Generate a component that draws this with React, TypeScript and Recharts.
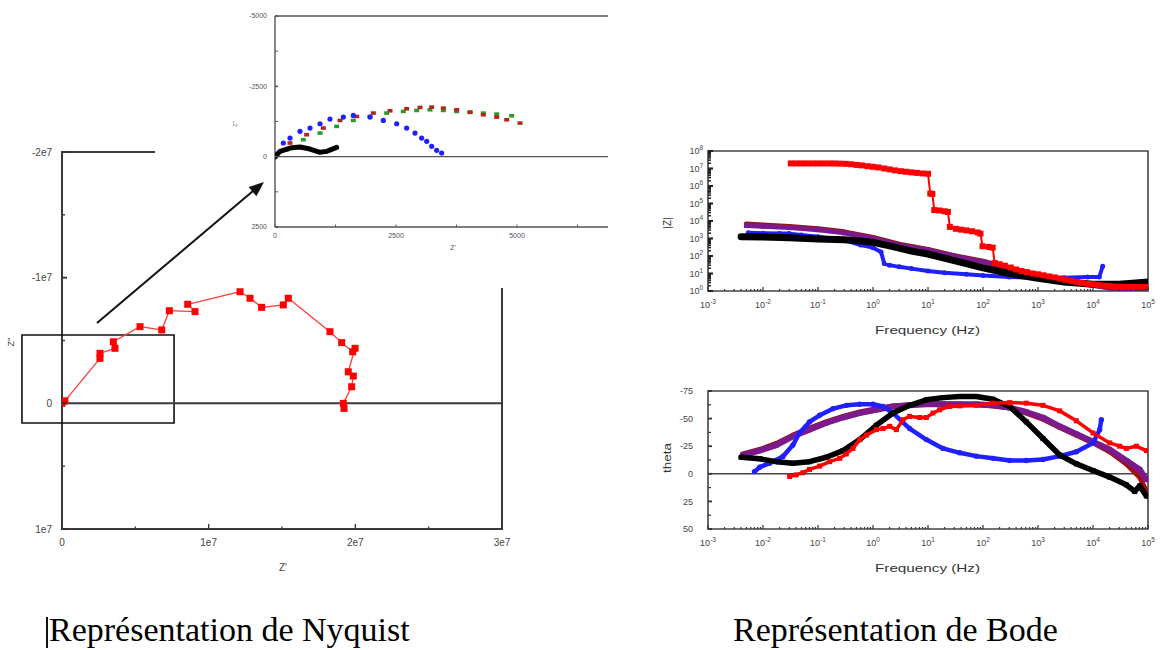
import React from 'react';
import { ComposedChart, Scatter, XAxis, YAxis, ReferenceArea, ReferenceLine } from 'recharts';

const SANS = '"Liberation Sans", Arial, Helvetica, sans-serif';
const SERIF = '"Liberation Serif", "Times New Roman", serif';

type Pt = [number, number];
const toXY = (a: Pt[]) => a.map(([x, y]) => ({ x, y }));

// ---------------- Nyquist (main) ----------------
const nyqXTicks = [0, 5e6, 1e7, 1.5e7, 2e7, 2.5e7, 3e7];
const nyqXLabels = ['0', '', '1e7', '', '2e7', '', '3e7'];
const nyqYTicks = [-2e7, -1.5e7, -1e7, -5e6, 0, 5e6, 1e7];
const nyqYLabels = ['-2e7', '', '-1e7', '', '0', '', '1e7'];
const nyqRed: Pt[] = [
  [0, 0], [2e5, -2e5], [2.59e6, -3.58e6], [2.59e6, -3.98e6], [3.61e6, -4.38e6], [3.5e6, -4.9e6],
  [5.32e6, -6.1e6], [6.8e6, -5.84e6], [7.32e6, -7.37e6], [9.07e6, -7.3e6], [8.57e6, -7.88e6],
  [1.214e7, -8.88e6], [1.282e7, -8.36e6], [1.361e7, -7.64e6], [1.509e7, -7.83e6], [1.543e7, -8.36e6],
  [1.827e7, -5.7e6], [1.907e7, -4.83e6], [1.982e7, -4.1e6], [1.998e7, -4.38e6], [1.952e7, -2.51e6],
  [1.986e7, -2.17e6], [1.975e7, -1.32e6], [1.918e7, 0], [1.923e7, 4e5],
];
const zoomBox = { x1: -2.73e6, x2: 7.64e6, y1: -5.44e6, y2: 1.57e6 };

// ---------------- Nyquist (inset) ----------------
const insXTicks = [0, 1250, 2500, 3750, 5000, 6250];
const insXLabels = ['0', '', '2500', '', '5000', ''];
const insYTicks = [-5000, -3750, -2500, -1250, 0, 1250, 2500];
const insYLabels = ['-5000', '', '-2500', '', '0', '', '2500'];
const insBlue: Pt[] = [
  [0, 0], [172, -485], [310, -662], [516, -899], [723, -1017], [930, -1170], [1136, -1336],
  [1412, -1407], [1618, -1466], [1963, -1407], [2238, -1288], [2514, -1170], [2720, -1017],
  [2892, -839], [3030, -662], [3134, -544], [3237, -367], [3340, -225], [3443, -130],
];
const insRed: Pt[] = [
  [0, 0], [310, -485], [654, -780], [999, -1017], [1343, -1288], [1687, -1430], [2032, -1549],
  [2376, -1631], [2720, -1702], [2996, -1749], [3237, -1761], [3478, -1726], [3753, -1667],
  [4029, -1584], [4304, -1489], [4580, -1407], [4787, -1312], [5062, -1194],
];
const insGreen: Pt[] = [
  [0, 0], [241, -248], [585, -603], [930, -839], [1274, -1076], [1618, -1288], [1963, -1430],
  [2307, -1549], [2651, -1608], [2927, -1643], [3202, -1667], [3478, -1643], [3753, -1608],
  [4029, -1572], [4304, -1549], [4580, -1513], [4890, -1454],
];
const insBlack: Pt[] = [
  [0, 0], [103, -189], [310, -307], [516, -343], [723, -272], [930, -154], [1067, -189], [1274, -331],
];

// ---------------- Bode ----------------
const freqMajors = [1e-3, 1e-2, 1e-1, 1, 1e1, 1e2, 1e3, 1e4, 1e5];
const freqLabels = ['-3', '-2', '-1', '0', '1', '2', '3', '4', '5'];
const zMajors = [1, 1e1, 1e2, 1e3, 1e4, 1e5, 1e6, 1e7, 1e8];
const zLabels = ['0', '1', '2', '3', '4', '5', '6', '7', '8'];
const thetaMajors = [-75, -50, -25, 0, 25, 50];
const thetaLabels = ['-75', '-50', '-25', '0', '25', '50'];

const logMinor = (majors: number[]) => {
  const out: number[] = [];
  majors.forEach((d, i) => {
    out.push(d);
    if (i < majors.length - 1) for (let m = 2; m <= 9; m++) out.push(m * d);
  });
  return out;
};
const freqAxisTicks = logMinor(freqMajors);
const zAxisTicks = logMinor(zMajors);
const thetaAxisTicks = thetaMajors.flatMap((t, i) => (i < thetaMajors.length - 1 ? [t, t + 12.5] : [t]));

const redZ: Pt[] = [
  [0.032, 1.95e7], [0.04, 1.95e7], [0.05, 1.95e7], [0.063, 1.95e7], [0.08, 1.95e7], [0.1, 1.95e7],
  [0.126, 1.95e7], [0.16, 1.95e7], [0.2, 1.95e7], [0.25, 1.9e7], [0.32, 1.85e7], [0.4, 1.75e7],
  [0.5, 1.6e7], [0.63, 1.5e7], [0.8, 1.35e7], [1.0, 1.25e7], [1.26, 1.15e7], [1.6, 1.0e7],
  [2.0, 8.9e6], [2.5, 7.8e6], [3.2, 7.0e6], [4.0, 6.5e6], [5.0, 6.0e6], [6.3, 5.6e6], [8.0, 5.2e6],
  [10, 5.0e6], [11, 3.7e5], [12, 3.5e5], [13, 4.2e4], [16, 4.0e4], [20, 3.6e4], [23, 3.3e4],
  [25, 4.6e3], [32, 3.6e3], [40, 3.2e3], [50, 2.9e3], [63, 2.6e3], [80, 2.2e3], [90, 1.9e3],
  [98, 360], [126, 330], [150, 300], [163, 40], [200, 34], [250, 28], [320, 22], [400, 17],
  [500, 14], [630, 12], [800, 10], [1000, 9], [1260, 7.9], [1600, 6.8], [2000, 6], [2500, 5.1],
  [3200, 4.4], [4000, 3.8], [5000, 3.3], [6300, 2.9], [8000, 2.6], [10000, 2.4], [12600, 2.2],
  [16000, 2.0], [20000, 1.9], [25000, 1.8], [32000, 1.75], [40000, 1.7], [50000, 1.7],
  [63000, 1.7], [80000, 1.7], [95000, 1.7],
];
const blueZ: Pt[] = [
  [0.0054, 2.1e3], [0.01, 2.0e3], [0.02, 1.95e3], [0.03, 1.9e3], [0.05, 1.6e3], [0.1, 1.25e3],
  [0.2, 950], [0.3, 800], [0.6, 420], [1.0, 300], [1.4, 170], [1.6, 37], [2.0, 30], [3.0, 24],
  [5.0, 19], [10, 14], [20, 11], [50, 9], [100, 7.6], [300, 6.3], [1000, 5.8], [3000, 5.8],
  [8000, 6.3], [13000, 6.3], [15000, 26],
];
const blackZ: Pt[] = [
  [0.004, 1.25e3], [0.01, 1.2e3], [0.03, 1.1e3], [0.1, 950], [0.3, 850], [0.6, 720], [1, 600],
  [2, 380], [3, 280], [5, 190], [10, 130], [30, 55], [100, 21], [300, 10], [1000, 5.3],
  [3000, 3.3], [10000, 2.4], [30000, 2.4], [60000, 2.9], [100000, 3.3],
];
const purpleZ: Pt[] = [
  [0.005, 5.5e3], [0.01, 5.0e3], [0.03, 4.2e3], [0.1, 3.2e3], [0.3, 2.1e3], [1, 1.0e3], [3, 410],
  [10, 213], [30, 96], [100, 46], [300, 19], [1000, 7.9], [3000, 4.1], [10000, 2.1], [30000, 1.2],
  [100000, 1.0],
];
const darkRedZ: Pt[] = [
  [0.005, 6.8e3], [0.01, 6.0e3], [0.03, 4.8e3], [0.1, 3.6e3], [0.3, 2.4e3], [1, 1.15e3], [3, 470],
  [10, 240], [30, 105], [100, 50], [300, 20], [1000, 8], [3000, 4], [10000, 2.1], [30000, 1.3],
  [100000, 1.1],
];

const blueTheta: Pt[] = [
  [0.007, -2], [0.0087, -6], [0.0132, -9.6], [0.023, -15.7], [0.035, -26], [0.046, -37], [0.07, -47],
  [0.107, -53], [0.187, -59], [0.33, -62], [0.57, -63], [1.0, -63], [1.52, -61], [2.31, -55],
  [4.64, -41], [9.33, -31], [18.7, -23], [37.6, -19], [75.6, -16], [152, -14], [305, -12], [613, -12],
  [1233, -13], [2477, -16], [4977, -20], [10000, -28], [13220, -40], [14180, -49],
];
const blackTheta: Pt[] = [
  [0.004, -15], [0.0087, -13.6], [0.0175, -11], [0.035, -9.6], [0.07, -11], [0.142, -15], [0.285, -21],
  [0.573, -31], [1.15, -44], [2.31, -55], [4.64, -62], [9.33, -67], [18.7, -69], [37.6, -70],
  [75.6, -70], [152, -67.5], [305, -61], [613, -47], [1233, -32], [2477, -17], [4977, -9],
  [10000, -3], [20100, 3], [40360, 10], [57300, 16], [70500, 11], [93300, 20],
];
const redTheta: Pt[] = [
  [0.0305, 2.4], [0.04, 1], [0.053, -1], [0.07, -4], [0.107, -7], [0.163, -11], [0.248, -14],
  [0.327, -18], [0.433, -23], [0.573, -31], [0.757, -35], [1.15, -40], [1.52, -41], [2.01, -43],
  [2.66, -40], [3.51, -49], [4.64, -52], [7.05, -51], [9.33, -51], [12.3, -55], [16.3, -58],
  [24.8, -61], [37.6, -61.5], [75.6, -62], [152, -64], [305, -64.5], [613, -64], [1233, -62],
  [2477, -57], [4977, -48], [10000, -37], [20100, -28], [30500, -25], [40360, -23], [61400, -25],
  [93300, -21],
];
const purpleTheta: Pt[] = [
  [0.0043, -17], [0.0087, -21], [0.0175, -26], [0.035, -34], [0.07, -40], [0.14, -46], [0.285, -51],
  [0.57, -55], [1.15, -58], [2.31, -61], [4.64, -62], [9.33, -63], [18.7, -63], [37.6, -63],
  [75.6, -63], [152, -62], [305, -60], [613, -56], [1233, -51], [2477, -43], [4977, -36],
  [10000, -29], [20100, -22], [40360, -12], [70500, -4], [93300, 5],
];
const darkRedTheta: Pt[] = [
  [0.0043, -18], [0.0087, -22], [0.0175, -27.5], [0.035, -35], [0.07, -41.5], [0.14, -47],
  [0.285, -52], [0.57, -56], [1.15, -59], [2.31, -61.5], [4.64, -62.5], [9.33, -63.5], [18.7, -63.5],
  [37.6, -63], [75.6, -62.5], [152, -61.5], [305, -59.5], [613, -55], [1233, -49.5], [2477, -42],
  [4977, -35], [10000, -28], [20100, -20], [40360, -9], [70500, 3], [93300, 16],
];

// ---------------- helpers ----------------
type TickCfg = {
  side: 'bottom' | 'left';
  majors: number[];
  labels: string[];
  majorLen: number;
  minorLen: number;
  font: number;
  gap: number;
  stroke: string;
  sw: number;
  color: string;
  sup?: boolean;
};

const makeTick = (c: TickCfg) => (p: any) => {
  const { x, y, payload } = p;
  const i = c.majors.indexOf(payload.value);
  const label = i >= 0 ? c.labels[i] : '';
  const major = i >= 0 && (label !== '' || c.sup);
  const len = major ? c.majorLen : c.minorLen;
  const supEl = (
    <>
      10
      <tspan dy={-c.font * 0.45} fontSize={c.font * 0.72}>{label}</tspan>
    </>
  );
  if (c.side === 'bottom') {
    return (
      <g>
        <line x1={x} y1={y} x2={x} y2={y - len} stroke={c.stroke} strokeWidth={c.sw} />
        {label !== '' && (
          <text x={x} y={y + c.gap} textAnchor="middle" fontSize={c.font} fill={c.color} fontFamily={SANS}>
            {c.sup ? supEl : label}
          </text>
        )}
      </g>
    );
  }
  return (
    <g>
      <line x1={x} y1={y} x2={x + len} y2={y} stroke={c.stroke} strokeWidth={major ? c.sw + 0.6 : c.sw} />
      {label !== '' && (
        <text x={x - c.gap} y={y} dy={c.font * 0.35} textAnchor="end" fontSize={c.font} fill={c.color} fontFamily={SANS}>
          {c.sup ? supEl : label}
        </text>
      )}
    </g>
  );
};

const sq = (s: number, fill: string) => (p: any) =>
  p.cx == null ? <g /> : <rect x={p.cx - s / 2} y={p.cy - s / 2} width={s} height={s} fill={fill} />;
const rectShape = (w: number, h: number, fill: string) => (p: any) =>
  p.cx == null ? <g /> : <rect x={p.cx - w / 2} y={p.cy - h / 2} width={w} height={h} fill={fill} />;
const circ = (r: number, fill: string) => (p: any) =>
  p.cx == null ? <g /> : <circle cx={p.cx} cy={p.cy} r={r} fill={fill} />;
const noShape = () => <g />;
const lineOf = (stroke: string, w: number) => ({ stroke, strokeWidth: w, strokeLinejoin: 'round', strokeLinecap: 'round' } as any);

const axisCommon = { interval: 0 as const, tickSize: 0, tickMargin: 0, tickLine: false, allowDataOverflow: true };

// ---------------- charts ----------------
function MainNyquist() {
  return (
    <ComposedChart width={540} height={440} margin={{ top: 12, right: 38, bottom: 11, left: 0 }}>
      <XAxis type="number" dataKey="x" domain={[0, 3e7]} ticks={nyqXTicks} height={40} axisLine={false} {...axisCommon}
        tick={makeTick({ side: 'bottom', majors: nyqXTicks, labels: nyqXLabels, majorLen: 5, minorLen: 2.5, font: 10, gap: 17, stroke: '#333', sw: 1.3, color: '#444' })} />
      <YAxis type="number" dataKey="y" domain={[-2e7, 1e7]} reversed ticks={nyqYTicks} width={62} axisLine={false} {...axisCommon}
        tick={makeTick({ side: 'left', majors: nyqYTicks, labels: nyqYLabels, majorLen: 5, minorLen: 3, font: 10, gap: 10, stroke: '#333', sw: 1.3, color: '#444' })} />
      <ReferenceArea x1={0} x2={3e7} y1={-2e7} y2={1e7} fill="none" fillOpacity={0} stroke="#3a3a3a" strokeWidth={2} ifOverflow="visible" />
      <ReferenceLine y={0} stroke="#3a3a3a" strokeWidth={2} />
      <Scatter data={toXY(nyqRed)} fill="#ff0000" line={lineOf('#ff3b3b', 1.3)} shape={sq(7, '#ff0000')} isAnimationActive={false} />
      <ReferenceArea x1={zoomBox.x1} x2={zoomBox.x2} y1={zoomBox.y1} y2={zoomBox.y2} fill="none" fillOpacity={0} stroke="#111" strokeWidth={1.6} ifOverflow="visible" />
    </ComposedChart>
  );
}

function InsetNyquist() {
  return (
    <ComposedChart width={465} height={288} margin={{ top: 16, right: 12, bottom: 21, left: 0 }}>
      <XAxis type="number" dataKey="x" domain={[0, 6880]} ticks={insXTicks} height={40} axisLine={{ stroke: '#555', strokeWidth: 1.4 }} {...axisCommon}
        tick={makeTick({ side: 'bottom', majors: insXTicks, labels: insXLabels, majorLen: 2.5, minorLen: 2.5, font: 7, gap: 10.5, stroke: '#555', sw: 1, color: '#555' })} />
      <YAxis type="number" dataKey="y" domain={[-5000, 2500]} reversed ticks={insYTicks} width={120} axisLine={{ stroke: '#555', strokeWidth: 1.4 }} {...axisCommon}
        tick={makeTick({ side: 'left', majors: insYTicks, labels: insYLabels, majorLen: 3, minorLen: 3, font: 7, gap: 8, stroke: '#555', sw: 1, color: '#555' })} />
      <ReferenceLine y={-5000} stroke="#555" strokeWidth={1.4} ifOverflow="visible" />
      <ReferenceLine y={0} stroke="#555" strokeWidth={1.4} />
      <Scatter data={toXY(insGreen)} fill="#2a9a2a" shape={rectShape(5, 3.6, '#2a9a2a')} isAnimationActive={false} />
      <Scatter data={toXY(insRed)} fill="#b3261e" shape={rectShape(5, 3.6, '#b3261e')} isAnimationActive={false} />
      <Scatter data={toXY(insBlue)} fill="#1f1fff" shape={circ(2.6, '#1f1fff')} isAnimationActive={false} />
      <Scatter data={toXY(insBlack)} fill="#000" line={lineOf('#000', 5)} shape={noShape} isAnimationActive={false} />
    </ComposedChart>
  );
}

const freqTick = makeTick({ side: 'bottom', majors: freqMajors, labels: freqLabels, majorLen: 4, minorLen: 2, font: 9, gap: 17, stroke: '#333', sw: 1.2, color: '#444', sup: true });

function BodeModulus() {
  return (
    <ComposedChart width={510} height={220} margin={{ top: 21, right: 12, bottom: 14, left: 0 }}>
      <XAxis type="number" dataKey="x" scale="log" domain={[1e-3, 1e5]} ticks={freqAxisTicks} height={45} axisLine={false} {...axisCommon} tick={freqTick} />
      <YAxis type="number" dataKey="y" scale="log" domain={[1, 1e8]} ticks={zAxisTicks} width={58} axisLine={false} {...axisCommon}
        tick={makeTick({ side: 'left', majors: zMajors, labels: zLabels, majorLen: 5, minorLen: 3, font: 9, gap: 5, stroke: '#222', sw: 1.5, color: '#444', sup: true })} />
      <ReferenceArea x1={1e-3} x2={1e5} y1={1} y2={1e8} fill="none" fillOpacity={0} stroke="#444" strokeWidth={1.6} ifOverflow="visible" />
      <Scatter data={toXY(blueZ)} fill="#1f1fff" line={lineOf('#1f1fff', 4)} shape={circ(2.5, '#1f1fff')} isAnimationActive={false} />
      <Scatter data={toXY(darkRedZ)} fill="#a01010" line={lineOf('#a01010', 5)} shape={sq(4, '#a01010')} isAnimationActive={false} />
      <Scatter data={toXY(purpleZ)} fill="#7a1a8c" line={lineOf('#7a1a8c', 5)} shape={sq(5, '#7a1a8c')} isAnimationActive={false} />
      <Scatter data={toXY(blackZ)} fill="#000" line={lineOf('#000', 7)} shape={sq(5, '#000')} isAnimationActive={false} />
      <Scatter data={toXY(redZ)} fill="#ff0000" line={lineOf('#ff0000', 2)} shape={sq(6, '#ff0000')} isAnimationActive={false} />
    </ComposedChart>
  );
}

function BodePhase() {
  return (
    <ComposedChart width={510} height={220} margin={{ top: 21, right: 12, bottom: 16, left: 0 }}>
      <XAxis type="number" dataKey="x" scale="log" domain={[1e-3, 1e5]} ticks={freqAxisTicks} height={45} axisLine={false} {...axisCommon} tick={freqTick} />
      <YAxis type="number" dataKey="y" domain={[-75, 50]} reversed ticks={thetaAxisTicks} width={58} axisLine={false} {...axisCommon}
        tick={makeTick({ side: 'left', majors: thetaMajors, labels: thetaLabels, majorLen: 4, minorLen: 3, font: 9, gap: 15, stroke: '#333', sw: 1.2, color: '#444' })} />
      <ReferenceArea x1={1e-3} x2={1e5} y1={-75} y2={50} fill="none" fillOpacity={0} stroke="#444" strokeWidth={1.6} ifOverflow="visible" />
      <ReferenceLine y={0} stroke="#444" strokeWidth={1.4} />
      <Scatter data={toXY(darkRedTheta)} fill="#a01010" line={lineOf('#a01010', 5)} shape={sq(4, '#a01010')} isAnimationActive={false} />
      <Scatter data={toXY(purpleTheta)} fill="#7a1a8c" line={lineOf('#7a1a8c', 6)} shape={sq(5, '#7a1a8c')} isAnimationActive={false} />
      <Scatter data={toXY(blueTheta)} fill="#1f1fff" line={lineOf('#1f1fff', 4.5)} shape={circ(2.7, '#1f1fff')} isAnimationActive={false} />
      <Scatter data={toXY(blackTheta)} fill="#000" line={lineOf('#000', 5.5)} shape={sq(5, '#000')} isAnimationActive={false} />
      <Scatter data={toXY(redTheta)} fill="#ff0000" line={lineOf('#ff0000', 3.5)} shape={sq(5, '#ff0000')} isAnimationActive={false} />
    </ComposedChart>
  );
}

export default function App() {
  return (
    <div style={{ position: 'absolute', left: 0, top: 0, width: 1160, height: 650, background: '#fff', overflow: 'hidden', fontFamily: SANS }}>
      <div style={{ position: 'absolute', left: 0, top: 140, zIndex: 1 }}>
        <MainNyquist />
      </div>
      <div style={{ position: 'absolute', left: 155, top: 0, width: 465, height: 288, background: '#fff', zIndex: 2 }}>
        <InsetNyquist />
      </div>
      <div style={{ position: 'absolute', left: 650, top: 130, zIndex: 1 }}>
        <BodeModulus />
      </div>
      <div style={{ position: 'absolute', left: 650, top: 370, zIndex: 1 }}>
        <BodePhase />
      </div>
      <svg width={1160} height={650} style={{ position: 'absolute', left: 0, top: 0, zIndex: 3, pointerEvents: 'none' }}>
        {/* arrow from zoom box to inset */}
        <line x1={97} y1={323} x2={253} y2={191} stroke="#111" strokeWidth={2} />
        <polygon points="264,182 256.4,196.3 248.6,187.1" fill="#111" />
        {/* axis titles */}
        <text x={14} y={342} transform="rotate(-90 14 342)" textAnchor="middle" fontSize={9} fill="#444" fontFamily={SANS}>Z''</text>
        <text x={283} y={571} textAnchor="middle" fontSize={10} fill="#444" fontFamily={SANS}>Z'</text>
        <text x={237} y={124} transform="rotate(-90 237 124)" textAnchor="middle" fontSize={6} fill="#555" fontFamily={SANS}>Z''</text>
        <text x={453} y={250} textAnchor="middle" fontSize={7} fill="#555" fontFamily={SANS}>Z'</text>
        <text x={671} y={223} transform="rotate(-90 671 223)" textAnchor="middle" fontSize={10} fill="#333" fontFamily={SANS}>|Z|</text>
        <text x={671} y={458} transform="rotate(-90 671 458)" textAnchor="middle" fontSize={10} fill="#333" fontFamily={SANS} textLength={30} lengthAdjust="spacingAndGlyphs">theta</text>
        <text x={875} y={334} fontSize={11} fill="#333" fontFamily={SANS} textLength={105} lengthAdjust="spacingAndGlyphs">Frequency (Hz)</text>
        <text x={875} y={572} fontSize={11} fill="#333" fontFamily={SANS} textLength={105} lengthAdjust="spacingAndGlyphs">Frequency (Hz)</text>
        {/* captions */}
        <rect x={46} y={617} width={2} height={31} fill="#111" />
        <text x={49} y={641} fontSize={34} fill="#000" fontFamily={SERIF}>Représentation de Nyquist</text>
        <text x={733} y={641} fontSize={34} fill="#000" fontFamily={SERIF}>Représentation de Bode</text>
      </svg>
    </div>
  );
}
